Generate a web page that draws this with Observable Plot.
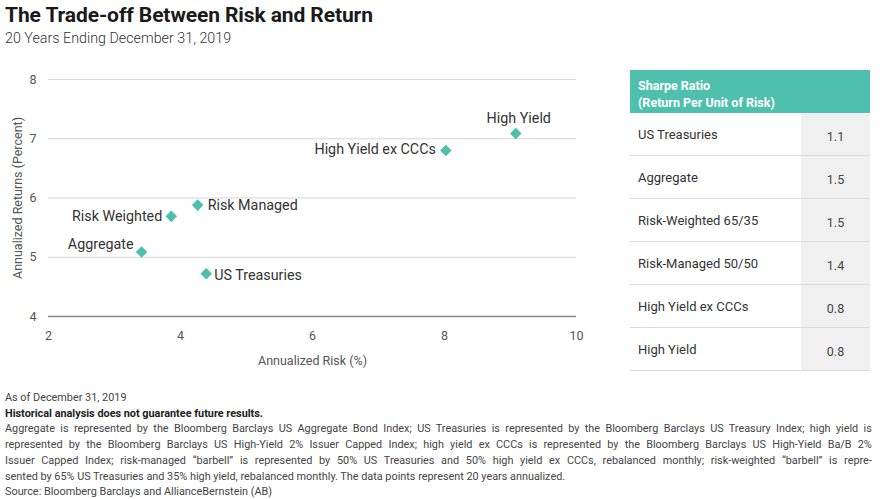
<!DOCTYPE html>
<html>
<head>
<meta charset="utf-8">
<script src="https://cdn.jsdelivr.net/npm/d3@7"></script>
<script src="https://cdn.jsdelivr.net/npm/@observablehq/plot@0.6"></script>
<style>
  html, body { margin: 0; padding: 0; background: #fff; }
  body { width: 880px; height: 499px; position: relative; overflow: hidden; font-family: Roboto, "Liberation Sans", sans-serif; color: #222; }
  #title { position: absolute; left: 5px; top: 3px; font-size: 21px; font-weight: 700; letter-spacing: -0.1px; color: #1a1a1a; white-space: nowrap; }
  #subtitle { position: absolute; left: 5px; top: 30px; font-size: 14.3px; font-weight: 300; color: #333; white-space: nowrap; }
  #chart { position: absolute; left: 0; top: 55px; }
  #table { position: absolute; left: 630px; top: 70px; width: 240px; }
  #table .hdr { background: #4fbfae; color: #fff; font-weight: 700; font-size: 12.5px; line-height: 17px; height: 43px; box-sizing: border-box; padding: 7px 8px 0 8px; }
  #table .row { position: relative; height: 43px; border-bottom: 1.5px solid #dadada; box-sizing: border-box; font-size: 13px; color: #333; }
  #table .row .lab { position: absolute; left: 8px; top: 14px; white-space: nowrap; }
  #table .row .val { position: absolute; left: 171px; width: 69px; top: 0; bottom: 0; background: #f0f0f0; text-align: center; line-height: 48px; font-size: 12.5px; color: #444; }
  #foot { position: absolute; left: 0; top: 388px; }
</style>
</head>
<body>
<div id="title">The Trade-off Between Risk and Return</div>
<div id="subtitle">20 Years Ending December 31, 2019</div>
<div id="chart"></div>
<div id="table"></div>
<div id="foot"></div>
<script>
// ---- data ----
const names = ["High Yield", "High Yield ex CCCs", "Risk Managed", "Risk Weighted", "Aggregate", "US Treasuries"];
const risk = [9.08, 8.02, 4.26, 3.86, 3.41, 4.39];
const returns = [7.09, 6.80, 5.88, 5.69, 5.09, 4.72];

const xTicks = [2, 4, 6, 8, 10];
const yTicks = [4, 5, 6, 7, 8];

const sharpeNames = ["US Treasuries", "Aggregate", "Risk-Weighted 65/35", "Risk-Managed 50/50", "High Yield ex CCCs", "High Yield"];
const sharpeValues = ["1.1", "1.5", "1.5", "1.4", "0.8", "0.8"];

const footLines = [
  "As of December 31, 2019",
  "Historical analysis does not guarantee future results.",
  "Aggregate is represented by the Bloomberg Barclays US Aggregate Bond Index; US Treasuries is represented by the Bloomberg Barclays US Treasury Index; high yield is",
  "represented by the Bloomberg Barclays US High-Yield 2% Issuer Capped Index; high yield ex CCCs is represented by the Bloomberg Barclays US High-Yield Ba/B 2%",
  "Issuer Capped Index; risk-managed \u201cbarbell\u201d is represented by 50% US Treasuries and 50% high yield ex CCCs, rebalanced monthly; risk-weighted \u201cbarbell\u201d is repre-",
  "sented by 65% US Treasuries and 35% high yield, rebalanced monthly. The data points represent 20 years annualized.",
  "Source: Bloomberg Barclays and AllianceBernstein (AB)"
];
const justified = [false, false, true, true, true, false, false];

// ---- label placement (style) ----
const placement = {
  "High Yield": {textAnchor: "middle", dx: 3, dy: -15},
  "High Yield ex CCCs": {textAnchor: "end", dx: -10, dy: -1},
  "Risk Managed": {textAnchor: "start", dx: 10, dy: 0},
  "Risk Weighted": {textAnchor: "end", dx: -9, dy: 0},
  "Aggregate": {textAnchor: "end", dx: -8, dy: -7},
  "US Treasuries": {textAnchor: "start", dx: 8, dy: 2}
};

const points = names.map((n, i) => ({name: n, risk: risk[i], ret: returns[i]}));
const teal = "#4dbfac";

const chart = Plot.plot({
  width: 600,
  height: 320,
  marginLeft: 48,
  marginRight: 24,
  marginTop: 24,
  marginBottom: 59,
  style: {fontFamily: "Roboto, sans-serif", fontSize: "12.5px", color: "#555", background: "transparent"},
  x: {domain: [2, 10]},
  y: {domain: [4, 8]},
  marks: [
    Plot.gridY(yTicks.filter(t => t !== 4), {stroke: "#d6d6d6", strokeOpacity: 1, strokeWidth: 1.2}),
    Plot.ruleY([4], {stroke: "#8a8a8a", strokeWidth: 1.5}),
    Plot.axisX(xTicks, {tickSize: 0, tickPadding: 15, tickFormat: d => String(d), label: "Annualized Risk (%)", labelAnchor: "center", labelArrow: "none", labelOffset: 48, fill: "#555"}),
    Plot.axisY(yTicks, {tickSize: 0, tickPadding: 12, tickFormat: d => String(d), label: "Annualized Returns (Percent)", labelAnchor: "center", labelArrow: "none", labelOffset: 35, fill: "#555"}),
    Plot.dot(points, {x: "risk", y: "ret", symbol: "diamond2", r: 5.2, fill: teal, stroke: "none"}),
    ...names.map(n => Plot.text(points.filter(d => d.name === n), {
      x: "risk", y: "ret", text: "name",
      fontSize: 14.3, fill: "#333",
      ...placement[n]
    }))
  ]
});
document.getElementById("chart").appendChild(chart);

// ---- table ----
const table = d3.select("#table");
table.append("div").attr("class", "hdr").html("Sharpe Ratio<br>(Return Per Unit of Risk)");
sharpeNames.forEach((n, i) => {
  const r = table.append("div").attr("class", "row");
  r.append("div").attr("class", "lab").text(n);
  r.append("div").attr("class", "val").text(sharpeValues[i]);
});

// ---- footnote: condensed glyphs, full lines justified by word spacing ----
const fullWidth = 868;
const fsvg = d3.select("#foot").append("svg").attr("width", 880).attr("height", 111)
  .style("font-family", "Roboto, 'Liberation Sans', sans-serif").style("font-size", "11.5px");
const groups = footLines.map((t, i) => {
  const g = fsvg.append("g");
  const tx = g.append("text")
    .attr("x", 0).attr("y", 0)
    .attr("fill", i === 1 ? "#222" : "#444")
    .attr("font-weight", i === 1 ? 700 : 400)
    .text(t);
  return {g, tx, i, t};
});
const natural = groups.map(o => o.tx.node().getComputedTextLength());
const kShort = 516 / natural[5];
const kFull = Math.min(...natural.map((w, i) => justified[i] ? fullWidth / w : Infinity));
const k = Math.min(1, (kShort + kFull) / 2);
groups.forEach(o => {
  o.g.attr("transform", `translate(5,${13 + o.i * 15.7}) scale(${k},1)`);
  if (justified[o.i]) {
    const spaces = (o.t.match(/ /g) || []).length;
    const ws = Math.max(0, (fullWidth / k - natural[o.i]) / spaces);
    o.tx.style("word-spacing", `${ws}px`);
  }
});
</script>
</body>
</html>
